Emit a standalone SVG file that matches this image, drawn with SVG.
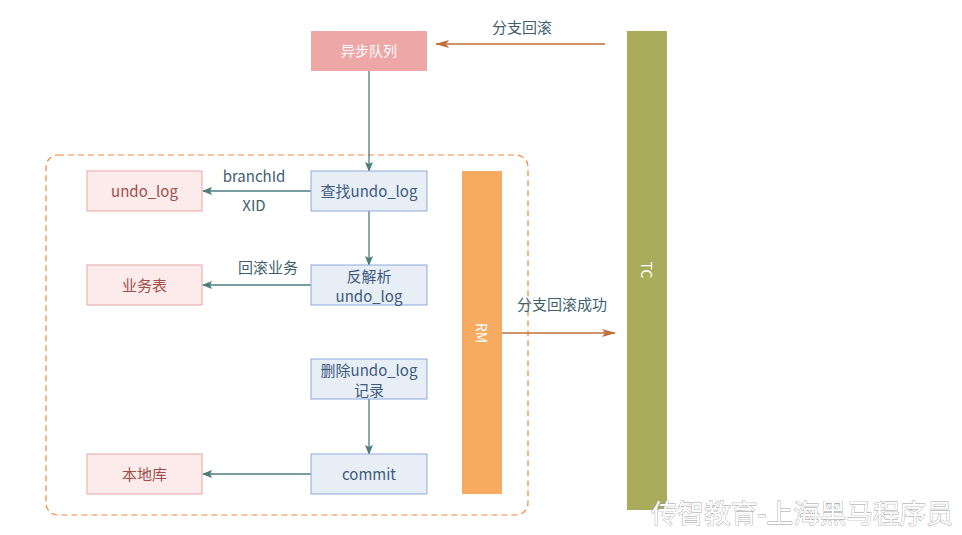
<svg xmlns="http://www.w3.org/2000/svg" width="962" height="535" viewBox="0 0 962 535">
<defs>
<style>
text{font-family:"Microsoft YaHei","Noto Sans CJK SC","Liberation Sans",sans-serif;}
.blue rect{fill:#E8EEF6;stroke:#8EAADB;stroke-width:1;}
.blue text{fill:#3C5A7D;font-size:15px;text-anchor:middle;}
.pink rect{fill:#FBEBEB;stroke:#EBA5A5;stroke-width:1;}
.pink text{fill:#9E4F4A;font-size:15px;text-anchor:middle;}
.lbl{fill:#3E5F6E;font-size:15px;text-anchor:middle;}
.c{stroke:#4D7B7E;stroke-width:1.3;fill:none;marker-end:url(#ah);}
.o{stroke:#C0703A;stroke-width:1.3;fill:none;marker-end:url(#ao);}
</style>
<marker id="ah" markerWidth="10" markerHeight="8" refX="9" refY="4" orient="auto" markerUnits="userSpaceOnUse">
<path d="M0,0 L10,4 L0,8 L2,4 Z" fill="#4D7B7E"/>
</marker>
<marker id="ao" markerWidth="14" markerHeight="8" refX="13" refY="4" orient="auto" markerUnits="userSpaceOnUse">
<path d="M0,0 L14,4 L0,8 L3,4 Z" fill="#C0703A"/>
</marker>
</defs>
<rect width="962" height="535" fill="#ffffff"/>

<g id="rm-container">
<rect x="46" y="155" width="482" height="360" rx="12" ry="12" fill="none" stroke="#F0883A" stroke-width="1.2" stroke-dasharray="6,4"/>
</g>

<g id="connectors">
<line class="o" x1="605" y1="44" x2="436" y2="44"/>
<text class="lbl" x="522" y="33">分支回滚</text>
<line class="c" x1="369" y1="71" x2="369" y2="171"/>
<line class="c" x1="311" y1="191" x2="203" y2="191"/>
<text class="lbl" x="254" y="182">branchId</text>
<text class="lbl" x="254" y="211">XID</text>
<line class="c" x1="369" y1="211" x2="369" y2="265"/>
<line class="c" x1="311" y1="285" x2="203" y2="285"/>
<text class="lbl" x="268" y="273">回滚业务</text>
<line class="c" x1="369" y1="399" x2="369" y2="454"/>
<line class="c" x1="311" y1="474" x2="203" y2="474"/>
<line class="o" x1="502" y1="333" x2="615" y2="333"/>
<text class="lbl" x="562" y="310">分支回滚成功</text>
</g>

<g id="async-queue">
<rect x="311" y="31" width="116" height="40" fill="#EDA7A7"/>
<text x="369" y="56" fill="#ffffff" font-size="14" text-anchor="middle">异步队列</text>
</g>

<g id="tc">
<rect x="627" y="31" width="40" height="479" fill="#A9AC5A"/>
<text x="647" y="270" fill="#ffffff" font-size="14" text-anchor="middle" dominant-baseline="central" transform="rotate(90 647 270)">TC</text>
</g>

<g id="rm">
<rect x="462" y="171" width="40" height="323" fill="#F5AB60"/>
<text x="482" y="333" fill="#ffffff" font-size="14" text-anchor="middle" dominant-baseline="central" transform="rotate(90 482 333)">RM</text>
</g>

<g id="find-undo" class="blue">
<rect x="311" y="171" width="116" height="40"/>
<text x="369" y="197">查找undo_log</text>
</g>
<g id="parse-undo" class="blue">
<rect x="311" y="265" width="116" height="40"/>
<text x="369" y="282">反解析</text>
<text x="369" y="302">undo_log</text>
</g>
<g id="delete-undo" class="blue">
<rect x="311" y="359" width="116" height="40"/>
<text x="369" y="376">删除undo_log</text>
<text x="369" y="396">记录</text>
</g>
<g id="commit" class="blue">
<rect x="311" y="454" width="116" height="40"/>
<text x="369" y="480">commit</text>
</g>

<g id="undo-log" class="pink">
<rect x="87" y="171" width="115" height="40"/>
<text x="144.5" y="197">undo_log</text>
</g>
<g id="biz-table" class="pink">
<rect x="87" y="265" width="115" height="40"/>
<text x="144.5" y="291">业务表</text>
</g>
<g id="local-db" class="pink">
<rect x="87" y="454" width="115" height="40"/>
<text x="144.5" y="480">本地库</text>
</g>

<g id="watermark">
<text x="651" y="523" font-size="26.6" fill="#ffffff" stroke="#9a9a9a" stroke-width="0.8" paint-order="stroke">传智教育-上海黑马程序员</text>
</g>
</svg>
